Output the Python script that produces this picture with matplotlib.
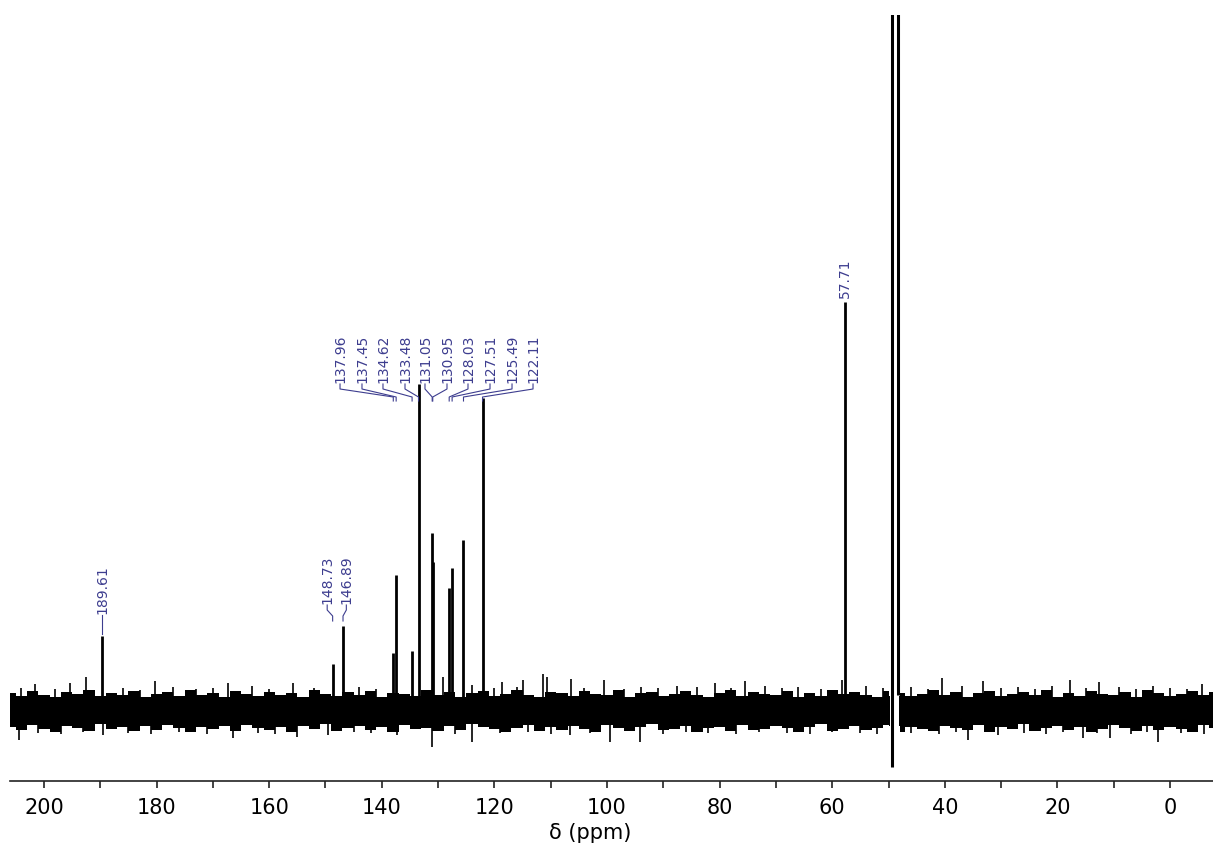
import matplotlib
matplotlib.use('Agg')
import matplotlib.pyplot as plt
from matplotlib.ticker import MultipleLocator

# 13C peaks: shift (ppm) and height above the baseline
peak_ppm = [189.61, 148.73, 146.89, 137.96, 137.45, 134.62, 133.48, 131.05, 130.95,
            128.03, 127.51, 125.49, 122.11, 57.71]
peak_height = [76, 48, 86, 59, 137, 61, 328, 179, 150, 124, 144, 172, 314, 410]

# solvent lines (CD3OD), going off the top
solvent_ppm = [49.4, 48.3]
solvent_low = [-55, 17]
solvent_high = [1500, 1500]

# baseline noise envelope, read every 2 ppm from 206 down to -8
noise_ppm = [206 - 2 * i for i in range(108)]
noise_top = [19, 16, 21, 17, 15, 20, 18, 22, 16, 19, 17, 21, 15, 18, 20, 16, 22, 17, 19, 15,
             21, 18, 16, 20, 17, 19, 15, 22, 18, 16, 20, 17, 21, 15, 19, 18, 16, 22, 17, 20,
             15, 19, 21, 16, 18, 22, 17, 15, 20, 19, 16, 21, 18, 17, 22, 15, 19, 20, 16, 18,
             21, 17, 15, 19, 22, 16, 20, 18, 17, 21, 15, 19, 16, 22, 18, 20, 17, 15, 21, 19,
             16, 18, 22, 17, 20, 15, 19, 21, 16, 18, 20, 17, 22, 15, 19, 16, 21, 18, 17, 20,
             15, 22, 19, 16, 18, 21, 17, 20]
noise_bottom = [-15, -18, -13, -17, -20, -14, -16, -19, -12, -17, -15, -19, -14, -18, -13,
                -16, -20, -15, -17, -14, -19, -13, -16, -18, -15, -20, -14, -17, -12, -19,
                -16, -14, -18, -15, -20, -13, -17, -16, -19, -14, -18, -12, -15, -17, -20,
                -16, -13, -19, -15, -18, -14, -17, -20, -13, -16, -19, -15, -12, -18, -17,
                -14, -20, -16, -15, -19, -13, -18, -17, -14, -16, -20, -15, -12, -19, -17,
                -14, -18, -16, -13, -20, -15, -17, -19, -14, -16, -18, -13, -20, -15, -17,
                -12, -19, -16, -14, -18, -15, -20, -17, -13, -16, -19, -14, -18, -15, -17,
                -20, -13, -16]
gap_ppm = (48.2, 49.7)  # no baseline between the two solvent lines

# stronger noise spikes
spike_up_ppm = [201.6, 195.4, 192.5, 180.3, 167.3, 155.8, 129.1, 124.0, 118.7, 114.9,
                111.4, 110.7, 106.4, 100.5, 87.6, 80.8, 75.5, 58.3, 40.5, 33.2, 17.8,
                12.6, -5.7,
                204, 198, 186, 183, 177, 173, 170, 163, 160, 152, 144, 141, 120, 116,
                104, 97, 94, 91, 84, 78, 72, 69, 66, 62, 54, 51, 46, 43, 37, 30, 27,
                24, 21, 15, 9, 6, 3, 0, -3]
spike_up_h = [28, 29, 35, 31, 29, 29, 35, 27, 30, 32,
              38, 35, 33, 32, 26, 29, 31, 32, 34, 31, 32,
              30, 28,
              24, 23, 24, 22, 25, 23, 24, 26, 23, 24, 25, 23, 24, 25,
              24, 23, 25, 24, 25, 24, 26, 24, 25, 23, 26, 24, 25, 23, 26, 24, 25,
              23, 26, 24, 25, 23, 26, 24, 23]
spike_dn_ppm = [204.4, 189.5, 166.4, 155.1, 149.6, 137.3, 131.1, 124.0, 106.6, 99.5,
                94.1, 35.9, 30.5, 15.5, 10.7, 2.1,
                201, 197, 193, 185, 181, 176, 171, 162, 159, 145, 142, 127, 119, 114,
                110, 103, 90, 86, 82, 77, 73, 68, 64, 60, 55, 52, 46, 41, 38, 26, 22,
                19, 13, 7, 4, -2, -6]
spike_dn_h = [-28, -23, -26, -25, -23, -23, -35, -30, -23, -30,
              -30, -28, -23, -26, -26, -30,
              -21, -22, -20, -21, -22, -20, -22, -21, -22, -20, -21, -22, -21, -20,
              -22, -21, -22, -20, -21, -22, -20, -21, -22, -20, -21, -22, -21, -22,
              -20, -21, -22, -20, -21, -22, -20, -21, -22]

lab_color = '#3d3d8f'

fig = plt.figure(figsize=(12.13, 8.63), dpi=100)
ax = fig.add_axes([10 / 1213, 1 - 781 / 863, 1 - 10 / 1213, (781 - 15) / 863])

left = [i for i, p in enumerate(noise_ppm) if p >= gap_ppm[1]]
right = [i for i, p in enumerate(noise_ppm) if p <= gap_ppm[0]]
for idx, edge in [(left, gap_ppm[1]), (right, gap_ppm[0])]:
    xs = [noise_ppm[i] for i in idx]
    ax.fill_between(xs, [noise_bottom[i] for i in idx], [noise_top[i] for i in idx],
                    step='mid', color='black', lw=0)
# close the band up to the gap edges
ax.fill_between([noise_ppm[left[-1]], gap_ppm[1]], -14, 16, color='black', lw=0)
ax.fill_between([gap_ppm[0], noise_ppm[right[0]]], -14, 16, color='black', lw=0)

ax.vlines(spike_up_ppm, 0, spike_up_h, color='black', lw=1.2)
ax.vlines(spike_dn_ppm, spike_dn_h, 0, color='black', lw=1.2)

ax.vlines(peak_ppm, 0, peak_height, color='black', lw=2)
ax.vlines(solvent_ppm, solvent_low, solvent_high, color='black', lw=2.2)

h = dict(zip(peak_ppm, peak_height))

def label(p, lx, bottom, knee, end):
    ax.text(lx, bottom + 1, f'{p:.2f}', rotation=90, ha='center', va='bottom',
            fontsize=10, color=lab_color)
    ax.plot([lx, lx, p, p], [bottom, bottom - 5, knee, end], color=lab_color, lw=0.8)

# single labels
ax.text(189.61, 98, '189.61', rotation=90, ha='center', va='bottom', fontsize=10, color=lab_color)
ax.plot([189.61, 189.61], [97, h[189.61] + 2], color=lab_color, lw=0.8)
ax.text(57.71, 414, '57.71', rotation=90, ha='center', va='bottom', fontsize=10, color=lab_color)

label(148.73, 149.7, 107, 96, 91)
label(146.89, 146.3, 107, 96, 91)

group = [137.96, 137.45, 134.62, 133.48, 131.05, 130.95, 128.03, 127.51, 125.49, 122.11]
group_x = [147.42, 143.52, 139.79, 135.88, 132.33, 128.42, 124.69, 120.78, 116.87, 113.14]
for p, lx in zip(group, group_x):
    label(p, lx, 328, 315, 311)

ax.set_xlim(200 + 34 / 5.63, 200 - 1169 / 5.63)
ax.set_ylim(-69, 697)

for s in ['top', 'left', 'right']:
    ax.spines[s].set_visible(False)
ax.spines['bottom'].set_linewidth(1.2)
ax.spines['bottom'].set_color('#222222')
ax.set_yticks([])
ax.xaxis.set_major_locator(MultipleLocator(20))
ax.xaxis.set_minor_locator(MultipleLocator(10))
ax.tick_params(axis='x', which='both', direction='out', length=5, width=1.2,
               labelsize=15, pad=7, color='#222222')
ax.set_xlabel('δ (ppm)', fontsize=15, labelpad=-3)
ax.xaxis.set_label_coords(0.482, -0.055)

fig.savefig('out.png', dpi=100)
